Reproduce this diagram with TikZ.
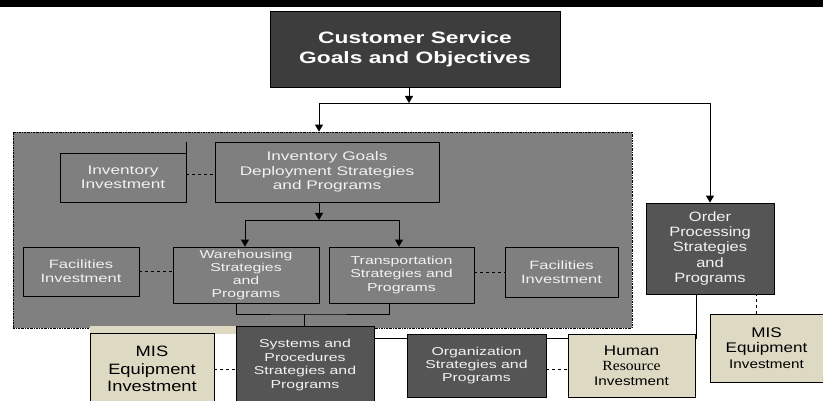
\documentclass[tikz,border=0pt]{standalone}
\usepackage{fontspec}
\setmainfont{Liberation Sans}[FakeStretch=1.22]
\newfontfamily\widesans{Liberation Sans}[FakeStretch=1.38]
\newfontfamily\romanword{Liberation Serif}[FakeStretch=1.12]
\usetikzlibrary{arrows.meta,backgrounds}
\definecolor{sheetgray}{HTML}{808080}
\definecolor{boxgray}{HTML}{7F7F7F}
\definecolor{slate}{HTML}{555555}
\definecolor{charcoal}{HTML}{3D3D3D}
\definecolor{tanfill}{HTML}{DDD9C3}
\definecolor{paletext}{HTML}{F2F2F2}
\begin{document}
\begin{tikzpicture}[x=1pt,y=-1pt,
    box/.style={draw=black,line width=0.8pt,align=center,inner sep=0pt},
    greybox/.style={box,fill=boxgray,text=paletext},
    slatebox/.style={box,fill=slate,text=paletext},
    tanbox/.style={box,fill=tanfill,text=black},
    panel/.style={draw=black,line width=0.8pt,fill=sheetgray,
      dash pattern=on 2pt off 1pt on 0.6pt off 1pt},
    link/.style={line width=0.9pt},
    tie/.style={line width=0.9pt,dash pattern=on 3pt off 3pt},
    feed/.style={line width=0.9pt,-{Triangle[width=8pt,length=7pt]}}]
  \clip (0,0) rectangle (823,401);
  \fill[black] (0,0) rectangle (823,7);
  \node[panel,minimum width=619pt,minimum height=196pt] (panel) at (322.5,230) {};
  \fill[tanfill] (90,326) rectangle (236,334);

  \node[box,fill=charcoal,text=white,minimum width=290pt,minimum height=76pt,
    font=\widesans\bfseries\fontsize{16.5}{20}\selectfont] (goals) at (415,49)
    {Customer Service\\Goals and Objectives};
  \node[greybox,minimum width=126pt,minimum height=49pt,
    font=\widesans\fontsize{12.5}{14.5}\selectfont] (invinv) at (123,177.5)
    {Inventory\\Investment};
  \node[greybox,minimum width=224pt,minimum height=60pt,
    font=\widesans\fontsize{12.5}{14.5}\selectfont] (invgoals) at (327,172)
    {Inventory Goals\\Deployment Strategies\\and Programs};
  \node[greybox,minimum width=116pt,minimum height=49pt,
    font=\widesans\fontsize{12}{14}\selectfont] (facL) at (81,271.5)
    {Facilities\\Investment};
  \node[greybox,minimum width=146pt,minimum height=56pt,
    font=\widesans\fontsize{11.5}{13}\selectfont] (ware) at (246,275)
    {Warehousing\\Strategies\\and\\Programs};
  \node[greybox,minimum width=145pt,minimum height=56pt,
    font=\widesans\fontsize{11.5}{13.8}\selectfont] (trans) at (401.5,275)
    {Transportation\\Strategies and\\Programs};
  \node[greybox,minimum width=113pt,minimum height=50pt,
    font=\widesans\fontsize{12}{14}\selectfont] (facR) at (561.5,272)
    {Facilities\\Investment};
  \node[slatebox,minimum width=128pt,minimum height=91pt,
    font=\fontsize{13.5}{15.3}\selectfont] (order) at (710,248.5)
    {Order\\Processing\\Strategies\\and\\Programs};
  \node[slatebox,minimum width=138pt,minimum height=78pt,
    font=\widesans\fontsize{11.5}{13.7}\selectfont] (sys) at (305,365)
    {Systems and\\Procedures\\Strategies and\\Programs};
  \node[tanbox,minimum width=124pt,minimum height=72pt,
    font=\fontsize{15}{17.5}\selectfont] (misL) at (152,369)
    {MIS\\Equipment\\Investment};
  \node[slatebox,minimum width=139pt,minimum height=63pt,
    font=\widesans\fontsize{11.5}{13.3}\selectfont] (org) at (476.5,365.5)
    {Organization\\Strategies and\\Programs};
  \node[tanbox,minimum width=127pt,minimum height=63pt,
    font=\fontsize{14}{15}\selectfont] (human) at (631.5,365.5)
    {Human\\{\romanword Resource}\\{\fontsize{12.5}{15}\selectfont Investment}};
  \node[tanbox,minimum width=113pt,minimum height=68pt,
    font=\fontsize{14}{15.5}\selectfont] (misR) at (766.5,348)
    {MIS\\Equipment\\{\fontsize{12.5}{15}\selectfont Investment}};

  % goals to the two branches
  \coordinate (split) at (409,103);
  \coordinate (splitL) at (319,103);
  \coordinate (splitR) at (710,103);
  \draw[feed] (goals.south -| split) -- (split);
  \draw[link] (splitL) -- (splitR);
  \draw[feed] (splitL) -- (splitL |- panel.north);
  \draw[feed] (splitR) -- (order.north);

  % inventory goals to warehousing and transportation
  \coordinate (fork) at (319,220);
  \coordinate (forkL) at (245,220);
  \coordinate (forkR) at (399,220);
  \draw[feed] (invgoals.south -| fork) -- (fork);
  \draw[link] (forkL) -- (forkR);
  \draw[feed] (forkL) -- (forkL |- ware.north);
  \draw[feed] (forkR) -- (forkR |- trans.north);
  \draw[link] (invinv.north east) -- (invinv.north east |- invgoals.north);

  % investments
  \draw[tie] ([yshift=3pt]invinv.east) -- ([yshift=3pt]invinv.east -| invgoals.west);
  \draw[tie] (facL.east) -- (facL.east -| ware.west);
  \draw[tie] (trans.east |- facR.west) -- (facR.west);
  \draw[tie] (misL.east) -- (misL.east -| sys.west);
  \draw[tie] ([yshift=-3.5pt]org.east) -- ([yshift=-3.5pt]org.east -| human.west);
  \draw[tie] ([xshift=-10pt]misR.north) -- ([xshift=-10pt]misR.north |- order.south);

  % merge into systems
  \coordinate (merge) at (304,314);
  \draw[link] ([xshift=-10pt]ware.south) |- (merge) -| ([xshift=-12.5pt]trans.south);
  \draw[link] (merge) -- (merge |- sys.north);
  \coordinate (bend) at (696,338);
  \begin{pgfonlayer}{background}
    \draw[link] (sys.east |- bend) -- (bend) -- (bend |- order.south);
  \end{pgfonlayer}
\end{tikzpicture}
\end{document}
